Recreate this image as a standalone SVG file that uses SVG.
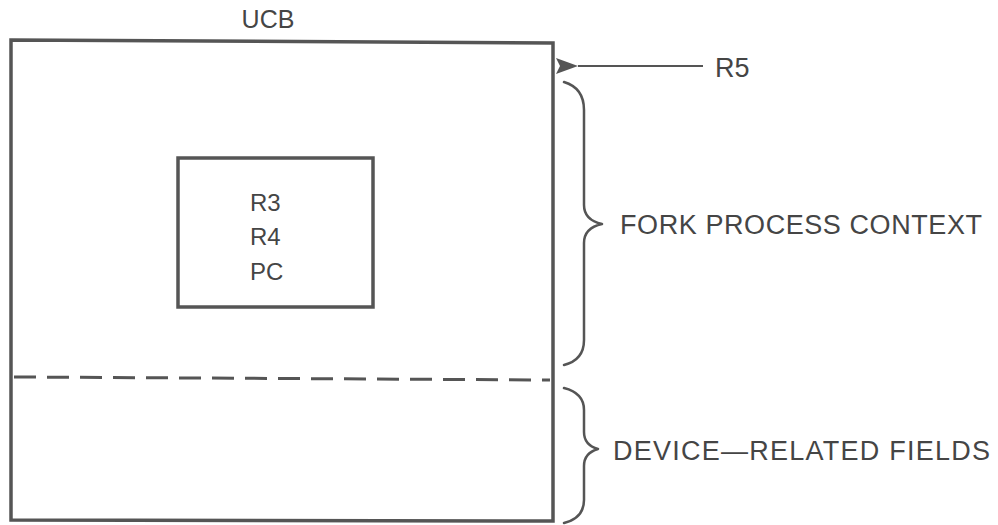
<svg xmlns="http://www.w3.org/2000/svg" width="998" height="525" viewBox="0 0 998 525">
<defs>
<style>
.box{fill:none;stroke:#555;stroke-width:3.5;stroke-linejoin:miter}
.dash{fill:none;stroke:#555;stroke-width:3;stroke-dasharray:22 11}
.brace{fill:none;stroke:#555;stroke-width:2.5;stroke-linecap:round;stroke-linejoin:round}
.conn{fill:none;stroke:#555;stroke-width:2}
text{font-family:"Liberation Sans",Arial,sans-serif;fill:#454545}
</style>
<marker id="arr" viewBox="0 0 22 18" refX="0" refY="9" markerWidth="22" markerHeight="18" markerUnits="userSpaceOnUse" orient="auto-start-reverse">
<path d="M0,9 L22,1 L18,9 L22,17 Z" fill="#555"/>
</marker>
</defs>
<rect width="998" height="525" fill="#fff"/>
<g id="ucb">
<path class="box" d="M11,40 L553,43 L553,521 L11,520 Z"/>
<path class="dash" d="M14,377 L550,380"/>
<text x="268" y="28" font-size="25" text-anchor="middle">UCB</text>
</g>
<g id="regs">
<rect class="box" x="178" y="158" width="195" height="149"/>
<text x="250" y="211" font-size="24">R3</text>
<text x="250" y="245" font-size="24">R4</text>
<text x="250" y="280" font-size="24">PC</text>
</g>
<g id="r5">
<text x="715" y="77" font-size="27">R5</text>
</g>
<g id="fork">
<path class="brace" d="M564,82 Q584,88 584,110 L584,205 Q584,220 602,224 Q584,228 584,243 L584,340 Q584,360 564,365"/>
<text x="620" y="234" font-size="27" textLength="362" lengthAdjust="spacing">FORK PROCESS CONTEXT</text>
</g>
<g id="device">
<path class="brace" d="M564,388 Q584,393 584,410 L584,432 Q584,445 598,449 Q584,453 584,466 L584,500 Q584,518 564,523"/>
<text x="613" y="460" font-size="27" textLength="377" lengthAdjust="spacing">DEVICE—RELATED FIELDS</text>
</g>
<g id="connectors">
<path class="conn" d="M703,66 L578,66" marker-end="url(#arr)"/>
</g>
</svg>
